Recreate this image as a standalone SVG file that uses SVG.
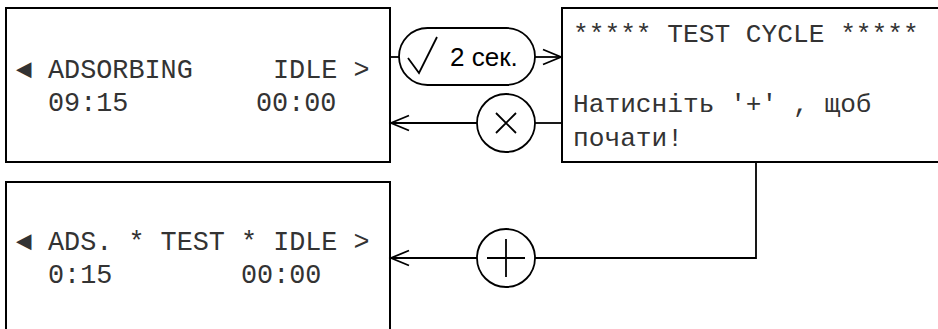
<svg xmlns="http://www.w3.org/2000/svg" width="938" height="329" viewBox="0 0 938 329">
  <style>
    .box { fill: #fff; stroke: #000; stroke-width: 2; }
    .lcd { font-family: "Liberation Mono", "DejaVu Sans Mono", monospace; font-size: 26.8px; fill: #333; }
    .lcd2 { font-family: "Liberation Mono", "DejaVu Sans Mono", monospace; font-size: 26.2px; fill: #333; }
    .wire { fill: none; stroke: #000; stroke-width: 1.8; }
    .btn { fill: #fff; stroke: #000; stroke-width: 1.8; }
    .glyph { fill: none; stroke: #000; stroke-width: 1.8; }
    .lbl { font-family: "Liberation Sans", Arial, sans-serif; font-size: 26px; fill: #000; }
  </style>
  <defs>
    <marker id="open" markerUnits="userSpaceOnUse" markerWidth="24" markerHeight="20" viewBox="-20 -10 24 20" refX="0" refY="0" orient="auto">
      <path d="M-18,-7.5 L0,0 L-18,7.5" fill="none" stroke="#000" stroke-width="1.8"/>
    </marker>
  </defs>

  <rect width="938" height="329" fill="#fff"/>

  <!-- screen: main menu -->
  <g id="screen-main">
    <rect class="box" x="6" y="8" width="384" height="154"/>
    <text class="lcd" x="16" y="78">◄</text>
    <text class="lcd" x="48" y="78">ADSORBING</text>
    <text class="lcd" x="273" y="78">IDLE &gt;</text>
    <text class="lcd" x="48" y="111">09:15</text>
    <text class="lcd" x="256" y="111">00:00</text>
  </g>

  <!-- screen: test cycle prompt -->
  <g id="screen-test-prompt">
    <rect class="box" x="562" y="8" width="390" height="154"/>
    <text class="lcd2" x="573" y="42">***** TEST CYCLE *****</text>
    <text class="lcd2" x="573" y="112">Натисніть '+' , щоб</text>
    <text class="lcd2" x="573" y="146">почати!</text>
  </g>

  <!-- screen: test running -->
  <g id="screen-test-run">
    <rect class="box" x="6" y="182" width="384" height="170"/>
    <text class="lcd" x="16" y="250">◄</text>
    <text class="lcd" x="48" y="250">ADS. * TEST * IDLE &gt;</text>
    <text class="lcd" x="48" y="283">0:15</text>
    <text class="lcd" x="241" y="283">00:00</text>
  </g>

  <!-- transitions -->
  <g id="connectors">
    <line class="wire" x1="391" y1="57" x2="399" y2="57"/>
    <line class="wire" x1="535" y1="57" x2="561" y2="57" marker-end="url(#open)"/>
    <line class="wire" x1="561" y1="123" x2="535" y2="123"/>
    <line class="wire" x1="477" y1="123" x2="391" y2="123" marker-end="url(#open)"/>
    <polyline class="wire" points="756,163 756,258 535,258"/>
    <line class="wire" x1="477" y1="258" x2="391" y2="258" marker-end="url(#open)"/>
  </g>

  <!-- button: hold OK for 2 s -->
  <g id="btn-ok-hold">
    <rect class="btn" x="399" y="28" width="136" height="57" rx="28.5" ry="28.5"/>
    <polyline class="glyph" points="408,58 419,73 437,37"/>
    <text class="lbl" x="450" y="66">2 сек.</text>
  </g>

  <!-- button: cancel -->
  <g id="btn-cancel">
    <circle class="btn" cx="506" cy="123" r="29"/>
    <path class="glyph" d="M496,113 L516,133 M516,113 L496,133"/>
  </g>

  <!-- button: plus -->
  <g id="btn-plus">
    <circle class="btn" cx="506" cy="258" r="29"/>
    <path class="glyph" d="M487,258 L525,258 M506,239 L506,277"/>
  </g>
</svg>
